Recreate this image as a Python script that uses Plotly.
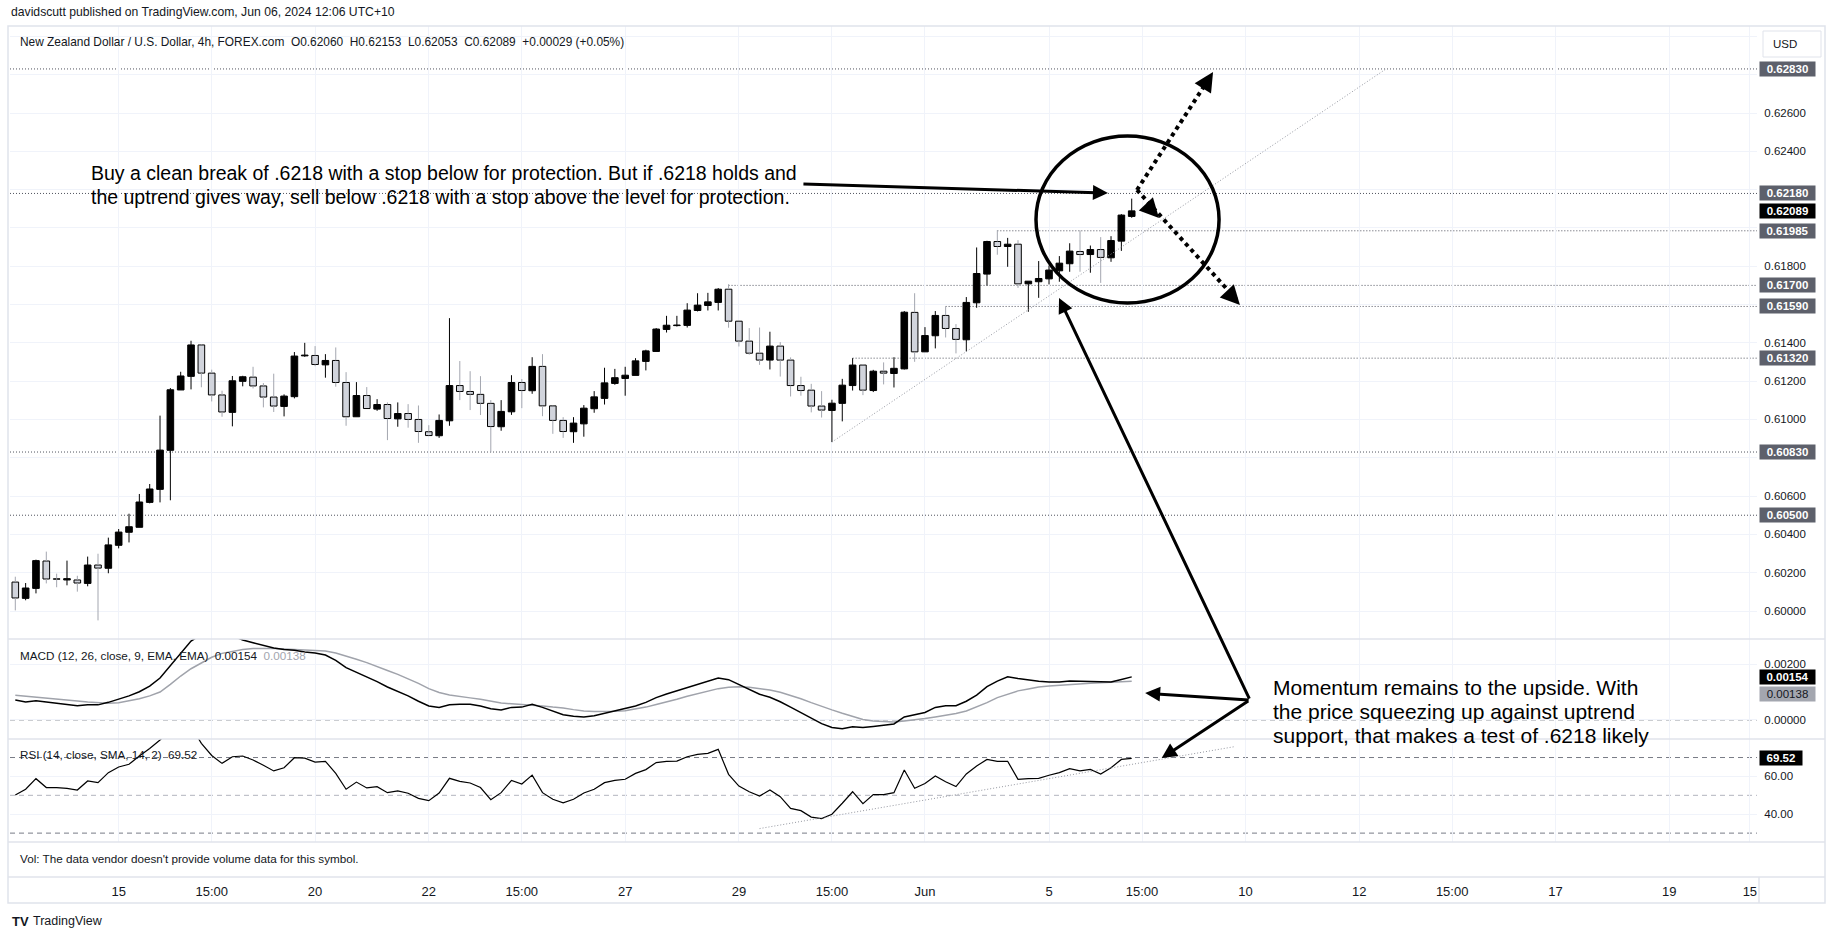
import plotly.graph_objects as go

# ---------------- data ----------------
OPEN = [0.60151, 0.60066, 0.60118, 0.60261, 0.60168, 0.60162, 0.60162, 0.60144, 0.60240, 0.60223,
        0.60343, 0.60411, 0.60437, 0.60567, 0.60635, 0.60839, 0.61154, 0.61225, 0.61389, 0.61242,
        0.61128, 0.61037, 0.61199, 0.61221, 0.61175, 0.61117, 0.61068, 0.61119, 0.61332, 0.61334,
        0.61285, 0.61308, 0.61193, 0.61014, 0.61125, 0.61054, 0.61078, 0.61003, 0.61031, 0.61000,
        0.60936, 0.60915, 0.60993, 0.61177, 0.61146, 0.61131, 0.61084, 0.60962, 0.61040, 0.61193,
        0.61150, 0.61277, 0.61071, 0.60995, 0.60936, 0.60977, 0.61056, 0.61110, 0.61188, 0.61214,
        0.61230, 0.61303, 0.61355, 0.61470, 0.61490, 0.61491, 0.61569, 0.61595, 0.61611, 0.61680,
        0.61513, 0.61409, 0.61346, 0.61310, 0.61383, 0.61310, 0.61177, 0.61153, 0.61070, 0.61047,
        0.61084, 0.61177, 0.61284, 0.61151, 0.61252, 0.61240, 0.61264, 0.61559, 0.61353, 0.61437,
        0.61543, 0.61475, 0.61416, 0.61609, 0.61759, 0.61929, 0.61903, 0.61915, 0.61708, 0.61719,
        0.61734, 0.61776, 0.61813, 0.61877, 0.61861, 0.61887, 0.61844, 0.61931, 0.62060]
HIGH = [0.60179, 0.60146, 0.60268, 0.60310, 0.60195, 0.60263, 0.60184, 0.60284, 0.60299, 0.60383,
        0.60428, 0.60508, 0.60611, 0.60663, 0.61020, 0.61164, 0.61249, 0.61411, 0.61392, 0.61260,
        0.61150, 0.61227, 0.61228, 0.61275, 0.61190, 0.61239, 0.61131, 0.61352, 0.61400, 0.61383,
        0.61341, 0.61376, 0.61247, 0.61195, 0.61169, 0.61106, 0.61089, 0.61089, 0.61080, 0.61073,
        0.60970, 0.61026, 0.61529, 0.61305, 0.61252, 0.61226, 0.61101, 0.61101, 0.61231, 0.61211,
        0.61325, 0.61341, 0.61073, 0.61012, 0.61012, 0.61075, 0.61148, 0.61270, 0.61264, 0.61275,
        0.61320, 0.61364, 0.61477, 0.61541, 0.61541, 0.61607, 0.61659, 0.61661, 0.61686, 0.61706,
        0.61515, 0.61477, 0.61480, 0.61458, 0.61404, 0.61324, 0.61223, 0.61186, 0.61148, 0.61103,
        0.61212, 0.61320, 0.61288, 0.61259, 0.61298, 0.61325, 0.61566, 0.61659, 0.61482, 0.61566,
        0.61590, 0.61498, 0.61639, 0.61898, 0.61933, 0.61988, 0.61948, 0.61936, 0.61722, 0.61827,
        0.61804, 0.61853, 0.61920, 0.61987, 0.61908, 0.61952, 0.61957, 0.62072, 0.62153]
LOW = [0.60003, 0.60056, 0.60092, 0.60144, 0.60124, 0.60134, 0.60101, 0.60129, 0.59951, 0.60197,
       0.60327, 0.60358, 0.60437, 0.60562, 0.60567, 0.60578, 0.61154, 0.61157, 0.61168, 0.61094,
       0.61014, 0.60964, 0.61173, 0.61162, 0.61063, 0.61039, 0.61016, 0.61110, 0.61327, 0.61278,
       0.61218, 0.61171, 0.60967, 0.61014, 0.61057, 0.61045, 0.60892, 0.60962, 0.60957, 0.60878,
       0.60913, 0.60904, 0.60967, 0.61101, 0.61049, 0.61023, 0.60828, 0.60941, 0.61024, 0.61059,
       0.61134, 0.61017, 0.60925, 0.60904, 0.60878, 0.60910, 0.61035, 0.61078, 0.61181, 0.61124,
       0.61230, 0.61256, 0.61355, 0.61454, 0.61485, 0.61480, 0.61564, 0.61569, 0.61569, 0.61479,
       0.61381, 0.61338, 0.61285, 0.61261, 0.61224, 0.61120, 0.61124, 0.61037, 0.61010, 0.60882,
       0.60990, 0.61151, 0.61127, 0.61143, 0.61183, 0.61167, 0.61261, 0.61301, 0.61353, 0.61371,
       0.61428, 0.61345, 0.61355, 0.61583, 0.61699, 0.61860, 0.61797, 0.61687, 0.61562, 0.61635,
       0.61705, 0.61719, 0.61771, 0.61771, 0.61766, 0.61713, 0.61823, 0.61880, 0.62053]
CLOSE = [0.60068, 0.60120, 0.60263, 0.60167, 0.60166, 0.60169, 0.60146, 0.60240, 0.60224, 0.60345,
         0.60412, 0.60440, 0.60569, 0.60637, 0.60840, 0.61155, 0.61227, 0.61389, 0.61242, 0.61128,
         0.61039, 0.61202, 0.61223, 0.61175, 0.61117, 0.61070, 0.61122, 0.61331, 0.61336, 0.61287,
         0.61308, 0.61193, 0.61014, 0.61125, 0.61057, 0.61078, 0.61005, 0.61031, 0.61000, 0.60937,
         0.60916, 0.60995, 0.61177, 0.61146, 0.61131, 0.61084, 0.60963, 0.61042, 0.61193, 0.61151,
         0.61277, 0.61071, 0.60995, 0.60937, 0.60981, 0.61059, 0.61118, 0.61191, 0.61218, 0.61231,
         0.61306, 0.61358, 0.61472, 0.61492, 0.61493, 0.61571, 0.61597, 0.61614, 0.61680, 0.61513,
         0.61409, 0.61346, 0.61310, 0.61383, 0.61310, 0.61177, 0.61151, 0.61070, 0.61049, 0.61085,
         0.61179, 0.61284, 0.61153, 0.61252, 0.61242, 0.61267, 0.61560, 0.61353, 0.61438, 0.61543,
         0.61475, 0.61418, 0.61611, 0.61762, 0.61929, 0.61903, 0.61915, 0.61708, 0.61722, 0.61736,
         0.61780, 0.61816, 0.61879, 0.61861, 0.61887, 0.61846, 0.61934, 0.62067, 0.62089]

MACD = [0.00071, 0.00064, 0.00069, 0.00065, 0.00061, 0.00056, 0.00051, 0.00054, 0.00054, 0.00063,
        0.00074, 0.00086, 0.00101, 0.00121, 0.00150, 0.00195, 0.00240, 0.00282, 0.00305, 0.00315,
        0.00315, 0.00300, 0.00286, 0.00276, 0.00267, 0.00257, 0.00252, 0.00249, 0.00243, 0.00239,
        0.00232, 0.00213, 0.00187, 0.00171, 0.00155, 0.00137, 0.00118, 0.00102, 0.00086, 0.00067,
        0.00050, 0.00045, 0.00054, 0.00056, 0.00056, 0.00050, 0.00040, 0.00036, 0.00045, 0.00046,
        0.00056, 0.00045, 0.00032, 0.00019, 0.00013, 0.00011, 0.00015, 0.00024, 0.00032, 0.00040,
        0.00050, 0.00063, 0.00080, 0.00093, 0.00104, 0.00115, 0.00126, 0.00138, 0.00150, 0.00144,
        0.00127, 0.00110, 0.00092, 0.00081, 0.00065, 0.00046, 0.00026, 0.00005, -0.00013, -0.00027,
        -0.00031, -0.00024, -0.00027, -0.00023, -0.00019, -0.00014, 0.00011, 0.00018, 0.00027, 0.00045,
        0.00051, 0.00051, 0.00067, 0.00089, 0.00119, 0.00139, 0.00154, 0.00148, 0.00143, 0.00138,
        0.00136, 0.00136, 0.00139, 0.00138, 0.00138, 0.00135, 0.00136, 0.00145, 0.00154]
SIGNAL = [0.00088, 0.00085, 0.00080, 0.00077, 0.00075, 0.00071, 0.00068, 0.00064, 0.00061, 0.00060,
          0.00062, 0.00069, 0.00076, 0.00086, 0.00100, 0.00127, 0.00157, 0.00183, 0.00205, 0.00224,
          0.00238, 0.00246, 0.00252, 0.00255, 0.00256, 0.00255, 0.00254, 0.00252, 0.00251, 0.00250,
          0.00246, 0.00239, 0.00229, 0.00217, 0.00205, 0.00190, 0.00177, 0.00163, 0.00148, 0.00131,
          0.00112, 0.00098, 0.00089, 0.00083, 0.00079, 0.00074, 0.00067, 0.00061, 0.00058, 0.00056,
          0.00054, 0.00050, 0.00046, 0.00043, 0.00037, 0.00032, 0.00030, 0.00030, 0.00031, 0.00033,
          0.00039, 0.00046, 0.00055, 0.00064, 0.00074, 0.00085, 0.00094, 0.00104, 0.00112, 0.00117,
          0.00119, 0.00117, 0.00113, 0.00107, 0.00099, 0.00088, 0.00076, 0.00062, 0.00048, 0.00036,
          0.00024, 0.00013, 0.00002, -0.00004, -0.00006, -0.00007, -0.00004, 0.00000, 0.00005, 0.00011,
          0.00017, 0.00023, 0.00032, 0.00046, 0.00062, 0.00080, 0.00093, 0.00104, 0.00111, 0.00118,
          0.00121, 0.00124, 0.00126, 0.00129, 0.00131, 0.00133, 0.00135, 0.00137, 0.00138]
RSI = [50.2, 53.2, 58.8, 54.1, 54.1, 53.7, 52.8, 57.6, 56.7, 62.0,
       65.0, 66.4, 70.8, 74.8, 79.3, 84.0, 86.0, 86.5, 77.5, 71.1,
       66.9, 70.4, 70.8, 68.7, 65.9, 62.9, 64.6, 69.9, 69.7, 67.6,
       68.0, 61.6, 53.2, 57.0, 53.9, 54.6, 51.4, 52.3, 51.1, 48.4,
       47.2, 51.2, 59.0, 57.4, 56.5, 54.1, 47.7, 51.4, 57.9, 56.0,
       60.7, 51.4, 47.9, 46.0, 47.9, 51.2, 53.2, 56.7, 57.9, 58.5,
       61.6, 63.6, 67.3, 68.0, 68.1, 70.4, 71.7, 72.2, 74.3, 61.1,
       54.9, 51.9, 49.6, 52.8, 49.3, 43.1, 41.9, 38.5, 37.7, 40.0,
       45.8, 51.9, 45.6, 50.4, 50.4, 51.4, 63.4, 53.7, 56.2, 60.2,
       57.2, 54.6, 61.3, 65.5, 69.0, 68.0, 68.0, 58.5, 58.8, 59.0,
       60.6, 62.0, 64.1, 62.9, 63.7, 61.3, 64.6, 69.0, 69.52]

PRICE_TICKS = [0.600, 0.602, 0.604, 0.606, 0.608, 0.610, 0.612, 0.614, 0.616,
               0.618, 0.620, 0.622, 0.624, 0.626, 0.628, 0.630]
PRICE_TICK_TEXT = ["0.60000", "0.60200", "0.60400", "0.60600", "", "0.61000", "0.61200", "0.61400", "",
                   "0.61800", "", "", "0.62400", "0.62600", "", ""]
MACD_TICKS = [0.0, 0.002]
MACD_TICK_TEXT = ["0.00000", "0.00200"]
RSI_TICKS = [40, 60]
RSI_TICK_TEXT = ["40.00", "60.00"]
RSI_BANDS = [30, 50, 70]
TIME_TICKS = [10, 19, 29, 40, 49, 59, 70, 79, 88, 100, 109, 119, 130, 139, 149, 160, 167.8]
TIME_LABELS = ["15", "15:00", "20", "22", "15:00", "27", "29", "15:00", "Jun", "5",
               "15:00", "10", "12", "15:00", "17", "19", "15"]

LEVELS = [0.62830, 0.62180, 0.61985, 0.61700, 0.61590, 0.61320, 0.60830, 0.60500]
LEVEL_FROM = [None, None, 95, 69, 90, 81, None, None]   # candle where each level starts

BUY_TEXT = ["Buy a clean break of .6218 with a stop below for protection. But if .6218 holds and",
            "the uptrend gives way, sell below .6218 with a stop above the level for protection."]
MOMENTUM_TEXT = ["Momentum remains to the upside. With",
                 "the price squeezing up against uptrend",
                 "support, that makes a test of .6218 likely"]

# ---------------- layout helpers ----------------
W, H = 1835, 939
def P(px):
    return px / W
def Q(py):
    return 1 - py / H

XMIN, XMAX = -0.513, 168.49
FONT = "Liberation Sans, Arial, sans-serif"
TXT = "#131722"
GRID = "#f0f3fa"

n = len(OPEN)
idx = list(range(n))

fig = go.Figure()

# wicks (split above / below the body)
up_x, up_y, dn_x, dn_y = [], [], [], []
for i in idx:
    o, h, l, c = OPEN[i], HIGH[i], LOW[i], CLOSE[i]
    top, bot = max(o, c), min(o, c)
    xs = [i, i, None, i, i, None]
    ys = [h, top, None, bot, l, None]
    if c >= o:
        up_x += xs; up_y += ys
    else:
        dn_x += xs; dn_y += ys
fig.add_trace(go.Scatter(x=up_x, y=up_y, mode="lines", line=dict(color="#000000", width=1),
                         hoverinfo="skip", xaxis="x", yaxis="y"))
fig.add_trace(go.Scatter(x=dn_x, y=dn_y, mode="lines", line=dict(color="#a3a6af", width=1),
                         hoverinfo="skip", xaxis="x", yaxis="y"))

# bodies
base = [min(o, c) for o, c in zip(OPEN, CLOSE)]
height = [max(abs(c - o), 0.00001) for o, c in zip(OPEN, CLOSE)]
colors = ["#000000" if c >= o else "#d1d4dc" for o, c in zip(OPEN, CLOSE)]
fig.add_trace(go.Bar(x=idx, y=height, base=base, width=0.64,
                     marker=dict(color=colors, line=dict(color="#000000", width=1)),
                     hoverinfo="skip", xaxis="x", yaxis="y"))

# MACD pane
fig.add_trace(go.Scatter(x=idx, y=SIGNAL, mode="lines", line=dict(color="#a0a3ab", width=1.5),
                         hoverinfo="skip", xaxis="x2", yaxis="y2"))
fig.add_trace(go.Scatter(x=idx, y=MACD, mode="lines", line=dict(color="#000000", width=1.5),
                         hoverinfo="skip", xaxis="x2", yaxis="y2"))
# RSI pane
fig.add_trace(go.Scatter(x=idx, y=RSI, mode="lines", line=dict(color="#000000", width=1.2),
                         hoverinfo="skip", xaxis="x3", yaxis="y3"))

xdom = [P(10), P(1757)]
common_x = dict(domain=xdom, range=[XMIN, XMAX], tickvals=TIME_TICKS, showgrid=True,
                gridcolor=GRID, gridwidth=1, zeroline=False, showline=False,
                showticklabels=False, ticks="", fixedrange=True)
tickfont = dict(family=FONT, size=11.5, color=TXT)

x3 = dict(common_x)
x3.update(showticklabels=True, ticktext=TIME_LABELS, ticks="outside", ticklen=37,
          tickcolor="rgba(0,0,0,0)", tickfont=dict(family=FONT, size=13, color=TXT))

fig.update_layout(
    width=W, height=H, template="none",
    margin=dict(l=0, r=0, t=0, b=0),
    paper_bgcolor="#ffffff", plot_bgcolor="#ffffff",
    showlegend=False, barmode="overlay",
    xaxis=dict(anchor="y", **common_x),
    xaxis2=dict(anchor="y2", **common_x),
    xaxis3=dict(anchor="y3", **x3),
    yaxis=dict(anchor="x", domain=[Q(639), Q(26)], range=[0.598538, 0.630542], side="right",
               tickvals=PRICE_TICKS, ticktext=PRICE_TICK_TEXT, showgrid=True, gridcolor=GRID,
               zeroline=False, showline=False, tickfont=tickfont, ticks="outside", ticklen=4,
               tickcolor="rgba(0,0,0,0)", fixedrange=True),
    yaxis2=dict(anchor="x2", domain=[Q(739), Q(639)], range=[-0.000679, 0.002893], side="right",
                tickvals=MACD_TICKS, ticktext=MACD_TICK_TEXT, showgrid=True, gridcolor=GRID,
                zeroline=False, showline=False, tickfont=tickfont, ticks="outside", ticklen=4,
                tickcolor="rgba(0,0,0,0)", fixedrange=True),
    yaxis3=dict(anchor="x3", domain=[Q(842), Q(739)], range=[25.3, 79.8], side="right",
                tickvals=RSI_TICKS, ticktext=RSI_TICK_TEXT, showgrid=True, gridcolor=GRID,
                zeroline=False, showline=False, tickfont=tickfont, ticks="outside", ticklen=4,
                tickcolor="rgba(0,0,0,0)", fixedrange=True),
)

shapes = []
annotations = []
SEP = "#e0e3eb"

# frame and pane separators
shapes.append(dict(type="rect", xref="paper", yref="paper", x0=P(8), x1=P(1825), y0=Q(903), y1=Q(26),
                   line=dict(color=SEP, width=1.5), fillcolor="rgba(0,0,0,0)", layer="above"))
for py in [639, 739, 842, 877]:
    shapes.append(dict(type="line", xref="paper", yref="paper", x0=P(8), x1=P(1825), y0=Q(py), y1=Q(py),
                       line=dict(color=SEP, width=1.5), layer="above"))
shapes.append(dict(type="line", xref="paper", yref="paper", x0=P(1759), x1=P(1759), y0=Q(877), y1=Q(903),
                   line=dict(color=SEP, width=1.5), layer="above"))

# horizontal levels (dotted)
for lv, start in zip(LEVELS, LEVEL_FROM):
    shapes.append(dict(type="line", xref="x", yref="y", x0=XMIN if start is None else start, x1=XMAX,
                       y0=lv, y1=lv, line=dict(color="#50535e", width=1, dash="1px,2px"), layer="below"))

# main uptrend line
shapes.append(dict(type="line", xref="x", yref="y", x0=79, y0=LOW[79], x1=132.6, y1=LEVELS[0],
                   line=dict(color="#9598a1", width=1, dash="1px,2px"), layer="above"))

# MACD zero line, RSI bands (dashed)
shapes.append(dict(type="line", xref="x2", yref="y2", x0=XMIN, x1=XMAX, y0=0, y1=0,
                   line=dict(color="#9598a1", width=1, dash="5px,4px"), layer="below"))
for b in RSI_BANDS:
    shapes.append(dict(type="line", xref="x3", yref="y3", x0=XMIN, x1=XMAX, y0=b, y1=b,
                       line=dict(color="#787b86" if b != 50 else "#b2b5be", width=1, dash="5px,4px"),
                       layer="below"))
# RSI rising support line
shapes.append(dict(type="line", xref="x3", yref="y3", x0=72, y0=32.4, x1=118, y1=75.8,
                   line=dict(color="#9598a1", width=1, dash="1px,2px"), layer="above"))

# circle
shapes.append(dict(type="circle", xref="x", yref="y", x0=98.74, x1=116.45, y0=0.61608, y1=0.62480,
                   line=dict(color="#000000", width=3.5), layer="above"))

# dotted scenario arrows
shapes.append(dict(type="line", xref="x", yref="y", x0=108.51, y0=0.62198, x1=115.6, y1=0.62790,
                   line=dict(color="#000000", width=4, dash="dot"), layer="above"))
shapes.append(dict(type="line", xref="x", yref="y", x0=108.51, y0=0.62198, x1=118.2, y1=0.61622,
                   line=dict(color="#000000", width=4, dash="dot"), layer="above"))
for hx, hy, ax, ay in [(115.87, 0.62814, -5, 8), (118.47, 0.61598, -7, -7.5), (110.64, 0.62052, -7, -7.5)]:
    annotations.append(dict(x=hx, y=hy, xref="x", yref="y", ax=ax, ay=ay, text="", showarrow=True,
                            arrowhead=2, arrowsize=1.1, arrowwidth=3.5, arrowcolor="#000000"))

# solid arrows
annotations.append(dict(x=105.7, y=0.62182, xref="x", yref="y", ax=-306, ay=-9, text="", showarrow=True,
                        arrowhead=2, arrowsize=1, arrowwidth=3, arrowcolor="#000000"))
annotations.append(dict(x=100.97, y=0.61634, xref="x", yref="y", ax=191, ay=402, text="", showarrow=True,
                        arrowhead=2, arrowsize=1, arrowwidth=3, arrowcolor="#000000"))
annotations.append(dict(x=109.3, y=0.00096, xref="x2", yref="y2", ax=105, ay=7, text="", showarrow=True,
                        arrowhead=2, arrowsize=1, arrowwidth=3, arrowcolor="#000000"))
annotations.append(dict(x=110.9, y=69.7, xref="x3", yref="y3", ax=88, ay=-58, text="", showarrow=True,
                        arrowhead=2, arrowsize=1, arrowwidth=3, arrowcolor="#000000"))

# commentary text (one annotation per line)
for k, line in enumerate(BUY_TEXT):
    annotations.append(dict(x=P(89), y=Q(173 + 24 * k), xref="paper", yref="paper", xanchor="left",
                            yanchor="middle", showarrow=False, text=line,
                            font=dict(family=FONT, size=19.5, color="#000000")))
for k, line in enumerate(MOMENTUM_TEXT):
    annotations.append(dict(x=P(1271), y=Q(687 + 24 * k), xref="paper", yref="paper", xanchor="left",
                            yanchor="middle", showarrow=False, text=line,
                            font=dict(family=FONT, size=21, color="#000000")))

# header / legends
sp = "\u00a0\u00a0"
annotations.append(dict(x=P(9), y=Q(12), xref="paper", yref="paper", xanchor="left", yanchor="middle",
                        showarrow=False, text="davidscutt published on TradingView.com, Jun 06, 2024 12:06 UTC+10",
                        font=dict(family=FONT, size=12.2, color=TXT)))
annotations.append(dict(x=P(18), y=Q(42), xref="paper", yref="paper", xanchor="left", yanchor="middle",
                        showarrow=False,
                        text=("New Zealand Dollar / U.S. Dollar, 4h, FOREX.com" + sp +
                              f"O{OPEN[-1]:.5f}" + sp + f"H{HIGH[-1]:.5f}" + sp + f"L{LOW[-1]:.5f}" + sp +
                              f"C{CLOSE[-1]:.5f}" + sp + "+0.00029 (+0.05%)"),
                        font=dict(family=FONT, size=11.9, color=TXT)))
annotations.append(dict(x=P(18), y=Q(655), xref="paper", yref="paper", xanchor="left", yanchor="middle",
                        showarrow=False,
                        text=("MACD (12, 26, close, 9, EMA, EMA)" + sp + f"{MACD[-1]:.5f}" + sp +
                              f"<span style='color:#a3a6af'>{SIGNAL[-1]:.5f}</span>"),
                        font=dict(family=FONT, size=11.7, color=TXT)))
annotations.append(dict(x=P(18), y=Q(754), xref="paper", yref="paper", xanchor="left", yanchor="middle",
                        showarrow=False, text="RSI (14, close, SMA, 14, 2)" + sp + f"{RSI[-1]:.2f}",
                        font=dict(family=FONT, size=11.7, color=TXT)))
annotations.append(dict(x=P(18), y=Q(858), xref="paper", yref="paper", xanchor="left", yanchor="middle",
                        showarrow=False, text="Vol: The data vendor doesn't provide volume data for this symbol.",
                        font=dict(family=FONT, size=11.7, color=TXT)))
annotations.append(dict(x=P(10), y=Q(921), xref="paper", yref="paper", xanchor="left", yanchor="middle",
                        showarrow=False, text="<b>TV</b>", font=dict(family=FONT, size=13, color=TXT)))
annotations.append(dict(x=P(31), y=Q(921), xref="paper", yref="paper", xanchor="left", yanchor="middle",
                        showarrow=False, text="TradingView", font=dict(family=FONT, size=12.5, color=TXT)))

# USD box
shapes.append(dict(type="rect", xref="paper", yref="paper", x0=P(1763), x1=P(1821), y0=Q(57), y1=Q(31),
                   line=dict(color="#e0e3eb", width=1), fillcolor="#ffffff", layer="above"))
annotations.append(dict(x=P(1771), y=Q(44), xref="paper", yref="paper", xanchor="left", yanchor="middle",
                        showarrow=False, text="USD", font=dict(family=FONT, size=11.5, color=TXT)))

# price-scale labels
LBL = dict(family=FONT, size=11.5, color="#ffffff")
for lv in LEVELS:
    annotations.append(dict(x=P(1759), y=lv, xref="paper", yref="y", xanchor="left", yanchor="middle",
                            showarrow=False, text=f"<b>{lv:.5f}</b>", bgcolor="#5d606b", borderpad=1,
                            width=53, font=LBL))
annotations.append(dict(x=P(1759), y=CLOSE[-1], xref="paper", yref="y", xanchor="left", yanchor="middle",
                        showarrow=False, text=f"<b>{CLOSE[-1]:.5f}</b>", bgcolor="#000000", borderpad=1,
                        width=53, font=LBL))
annotations.append(dict(x=P(1759), y=MACD[-1], xref="paper", yref="y2", xanchor="left", yanchor="middle",
                        showarrow=False, text=f"<b>{MACD[-1]:.5f}</b>", bgcolor="#000000", borderpad=1,
                        width=53, font=LBL))
annotations.append(dict(x=P(1759), y=SIGNAL[-1], xref="paper", yref="y2", xanchor="left", yanchor="middle",
                        yshift=-13, showarrow=False, text=f"{SIGNAL[-1]:.5f}", bgcolor="#a3a6af", borderpad=1,
                        width=53, font=dict(family=FONT, size=11.5, color=TXT)))
annotations.append(dict(x=P(1759), y=RSI[-1], xref="paper", yref="y3", xanchor="left", yanchor="middle",
                        showarrow=False, text=f"<b>{RSI[-1]:.2f}</b>", bgcolor="#000000", borderpad=1,
                        width=40, font=LBL))

fig.update_layout(shapes=shapes, annotations=annotations)
fig.write_html("out.html", config={"displayModeBar": False},
               post_script="document.body.style.margin='0px';document.body.style.overflow='hidden';")
